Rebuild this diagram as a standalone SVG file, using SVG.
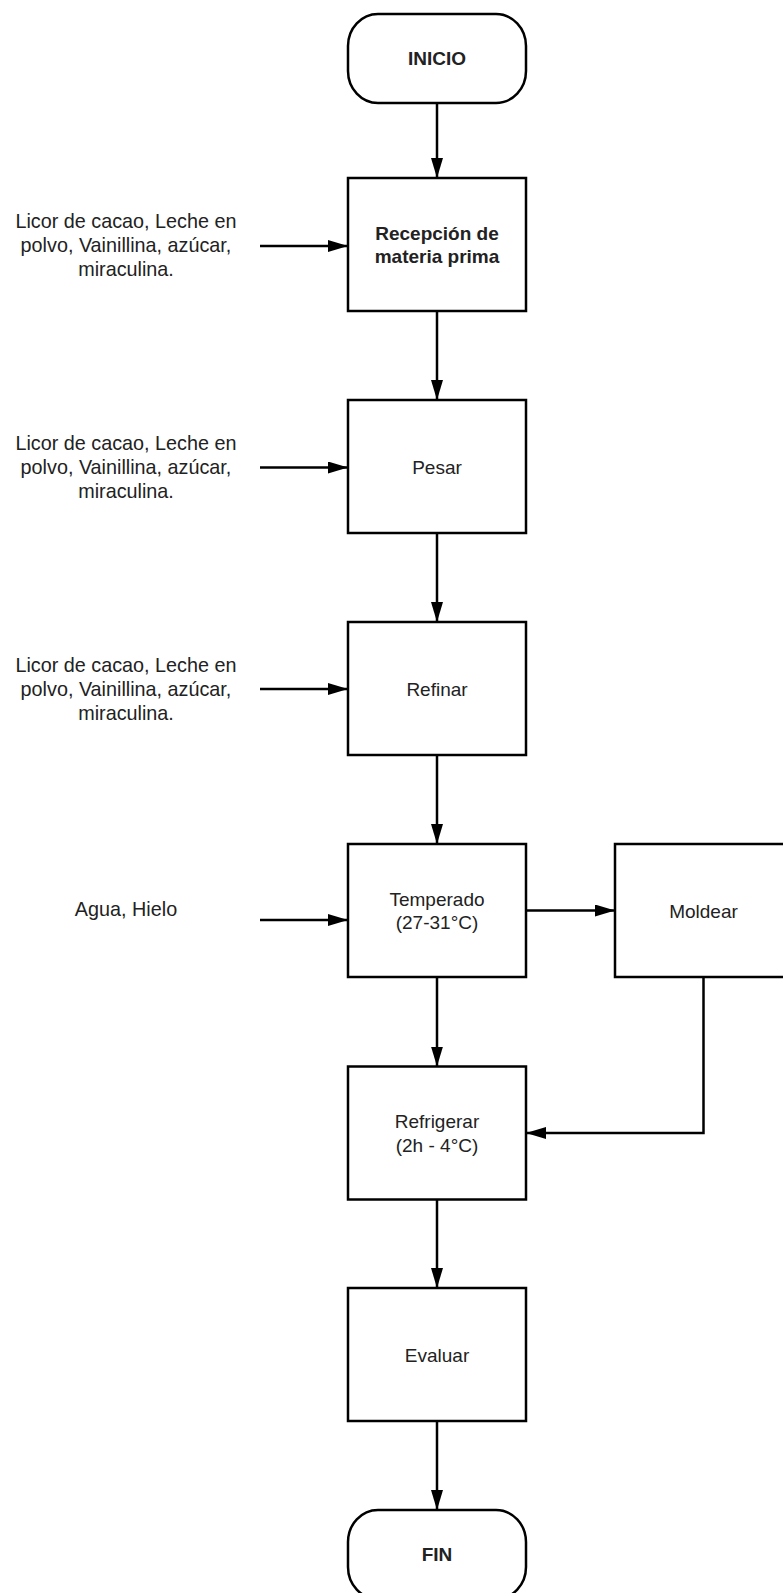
<svg xmlns="http://www.w3.org/2000/svg" width="783" height="1593" viewBox="0 0 783 1593">
<defs>
<marker id="ah" markerUnits="userSpaceOnUse" markerWidth="20" markerHeight="12" refX="20" refY="6" orient="auto">
<path d="M0,0 L20,6 L0,12 z" fill="#000"/>
</marker>
<style>
.box{fill:#fff;stroke:#000;stroke-width:2.5}
.ln{fill:none;stroke:#000;stroke-width:2.5}
.t{font-family:"Liberation Sans",Arial,sans-serif;font-size:19px;fill:#222;text-anchor:middle}
.b{font-weight:bold}
.in{font-family:"Liberation Sans",Arial,sans-serif;font-size:19.8px;fill:#222;text-anchor:middle}
</style>
</defs>
<rect width="783" height="1593" fill="#fff"/>
<g id="connectors">
<line class="ln" x1="437" y1="103" x2="437" y2="178" marker-end="url(#ah)"/>
<line class="ln" x1="437" y1="311" x2="437" y2="400" marker-end="url(#ah)"/>
<line class="ln" x1="437" y1="533" x2="437" y2="622" marker-end="url(#ah)"/>
<line class="ln" x1="437" y1="755" x2="437" y2="844" marker-end="url(#ah)"/>
<line class="ln" x1="437" y1="977" x2="437" y2="1066.5" marker-end="url(#ah)"/>
<line class="ln" x1="437" y1="1199.5" x2="437" y2="1288" marker-end="url(#ah)"/>
<line class="ln" x1="437" y1="1421" x2="437" y2="1510" marker-end="url(#ah)"/>
<line class="ln" x1="526" y1="910.5" x2="615" y2="910.5" marker-end="url(#ah)"/>
<polyline class="ln" points="703.5,977 703.5,1133 526,1133" marker-end="url(#ah)"/>
<line class="ln" x1="260" y1="246" x2="348" y2="246" marker-end="url(#ah)"/>
<line class="ln" x1="260" y1="467.5" x2="348" y2="467.5" marker-end="url(#ah)"/>
<line class="ln" x1="260" y1="689" x2="348" y2="689" marker-end="url(#ah)"/>
<line class="ln" x1="260" y1="920" x2="348" y2="920" marker-end="url(#ah)"/>
</g>
<g id="inicio">
<rect class="box" x="348" y="14" width="178" height="89" rx="30" ry="32"/>
<text class="t b" x="437" y="65">INICIO</text>
</g>
<g id="recepcion">
<rect class="box" x="348" y="178" width="178" height="133"/>
<text class="t b" x="437" y="240">Recepción de</text>
<text class="t b" x="437" y="262.5">materia prima</text>
</g>
<g id="pesar">
<rect class="box" x="348" y="400" width="178" height="133"/>
<text class="t" x="437" y="473.5">Pesar</text>
</g>
<g id="refinar">
<rect class="box" x="348" y="622" width="178" height="133"/>
<text class="t" x="437" y="695.5">Refinar</text>
</g>
<g id="temperado">
<rect class="box" x="348" y="844" width="178" height="133"/>
<text class="t" x="437" y="905.5">Temperado</text>
<text class="t" x="437" y="929">(27-31°C)</text>
</g>
<g id="moldear">
<rect class="box" x="615" y="844" width="178" height="133"/>
<text class="t" x="703.5" y="917.5">Moldear</text>
</g>
<g id="refrigerar">
<rect class="box" x="348" y="1066.5" width="178" height="133"/>
<text class="t" x="437" y="1128">Refrigerar</text>
<text class="t" x="437" y="1151.5">(2h - 4°C)</text>
</g>
<g id="evaluar">
<rect class="box" x="348" y="1288" width="178" height="133"/>
<text class="t" x="437" y="1361.5">Evaluar</text>
</g>
<g id="fin">
<rect class="box" x="348" y="1510" width="178" height="89" rx="30" ry="32"/>
<text class="t b" x="437" y="1561">FIN</text>
</g>
<g id="input1">
<text class="in" x="126" y="228">Licor de cacao, Leche en</text>
<text class="in" x="126" y="252">polvo, Vainillina, azúcar,</text>
<text class="in" x="126" y="276">miraculina.</text>
</g>
<g id="input2">
<text class="in" x="126" y="450">Licor de cacao, Leche en</text>
<text class="in" x="126" y="474">polvo, Vainillina, azúcar,</text>
<text class="in" x="126" y="498">miraculina.</text>
</g>
<g id="input3">
<text class="in" x="126" y="672">Licor de cacao, Leche en</text>
<text class="in" x="126" y="696">polvo, Vainillina, azúcar,</text>
<text class="in" x="126" y="720">miraculina.</text>
</g>
<g id="input4">
<text class="in" x="126" y="916">Agua, Hielo</text>
</g>
</svg>
